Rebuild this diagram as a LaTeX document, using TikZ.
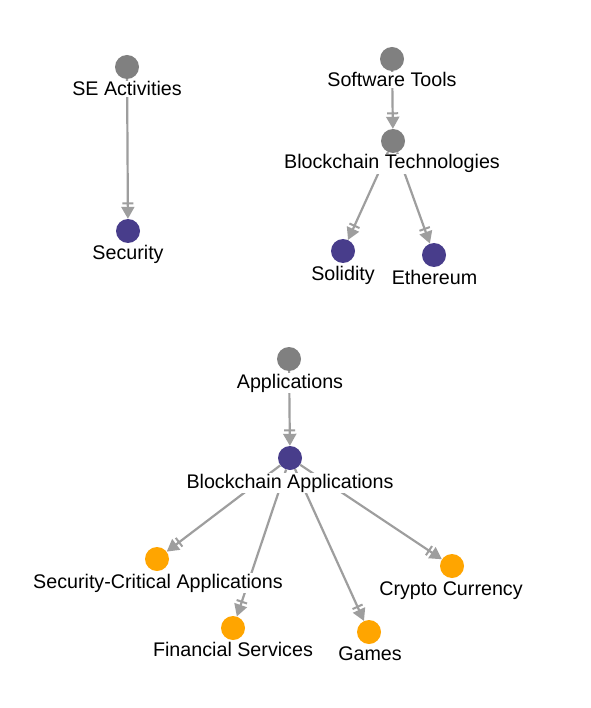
\documentclass[tikz,border=0pt]{standalone}
\usepackage{fontspec}
\setmainfont{Liberation Sans}
\usetikzlibrary{arrows.meta}
\definecolor{ngray}{HTML}{808080}
\definecolor{npurple}{HTML}{483D8B}
\definecolor{norange}{HTML}{FFA500}
\definecolor{egray}{HTML}{9E9E9E}
\tikzset{
  dot/.style={circle,inner sep=0pt,minimum size=24pt},
  graydot/.style={dot,fill=ngray},
  purpledot/.style={dot,fill=npurple},
  orangedot/.style={dot,fill=norange},
  lbl/.style={anchor=base,inner xsep=0pt,inner ysep=1pt,fill=white,
    font=\fontsize{19.7}{22}\selectfont,text=black},
  edge/.style={draw=egray,line width=2.2pt,
    -{Bar[width=11pt,line width=2pt,sep=2.5pt]Triangle[length=12pt,width=13pt,sep=0pt]}},
}
\begin{document}
\begin{tikzpicture}[x=1pt,y=-1pt]
\useasboundingbox[fill=white] (0,0) rectangle (590,708);
% nodes
\node[graydot] (se) at (127,67) {};
\node[purpledot] (sec) at (128,231) {};
\node[graydot] (st) at (392,59) {};
\node[graydot] (bt) at (393,141) {};
\node[purpledot] (sol) at (343,251) {};
\node[purpledot] (eth) at (434,255) {};
\node[graydot] (app) at (289,359) {};
\node[purpledot] (ba) at (290,458) {};
\node[orangedot] (sca) at (157,559) {};
\node[orangedot] (fs) at (233,628) {};
\node[orangedot] (gm) at (369,632) {};
\node[orangedot] (cc) at (452,566) {};
% edges
\draw[edge] (se) -- (sec);
\draw[edge] (st) -- (bt);
\draw[edge] (bt) -- (sol);
\draw[edge] (bt) -- (eth);
\draw[edge] (app) -- (ba);
\draw[edge] (ba) -- (sca);
\draw[edge] (ba) -- (fs);
\draw[edge] (ba) -- (gm);
\draw[edge] (ba) -- (cc);
% labels
\node[lbl] (sel) at (127,96) {SE Activities};
\node[lbl] (secl) at (128,259) {Security};
\node[lbl] (stl) at (392,87) {Software Tools};
\node[lbl] (btl) at (392,169) {Blockchain Technologies};
\node[lbl] (soll) at (343,280) {Solidity};
\node[lbl] (ethl) at (434.5,284) {Ethereum};
\node[lbl] (appl) at (290,388) {Applications};
\node[lbl] (bal) at (290,488) {Blockchain Applications};
\node[lbl] (scal) at (158,588) {Security-Critical Applications};
\node[lbl] (fsl) at (233,656) {Financial Services};
\node[lbl] (gml) at (370,660) {Games};
\node[lbl] (ccl) at (451,595) {Crypto Currency};
\end{tikzpicture}
\end{document}
